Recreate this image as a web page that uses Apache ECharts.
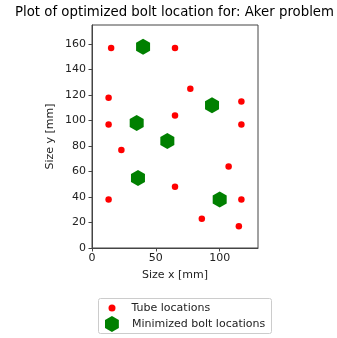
<!DOCTYPE html>
<html>
<head>
<meta charset="utf-8">
<script src="https://cdn.jsdelivr.net/npm/echarts@6/dist/echarts.min.js"></script>
<style>
  html, body { margin: 0; padding: 0; background: #fff; }
  #chart { width: 337px; height: 338px; }
</style>
</head>
<body>
<div id="chart"></div>
<script>
// Tube positions (x, y) in mm
var tubeX = [15, 65, 77, 13, 117, 65, 13, 117, 23, 107, 65, 13, 117, 86, 115];
var tubeY = [157, 157, 125, 118, 115, 104, 97, 97, 77, 64, 48, 38, 38, 23, 17];

// Optimized bolt positions (x, y) in mm
var boltX = [40, 94, 35, 59, 36, 100];
var boltY = [158, 112, 98, 84, 55, 38];

// Axis tick values
var xTicks = [0, 50, 100];
var yTicks = [0, 20, 40, 60, 80, 100, 120, 140, 160];

var FONT = 'DejaVu Sans';
var HEX = 'path://M50,0 L93.3,25 L93.3,75 L50,100 L6.7,75 L6.7,25 Z';

function pairs(xs, ys) {
  return xs.map(function (x, i) { return [x, ys[i]]; });
}

var chart = echarts.init(document.getElementById('chart'), null, { renderer: 'canvas' });

chart.setOption({
  animation: false,
  backgroundColor: '#fff',
  title: {
    text: 'Plot of optimized bolt location for: Aker problem',
    left: 174.5,
    textAlign: 'center',
    top: 6,
    padding: 0,
    textStyle: { fontFamily: FONT, fontSize: 13.3, fontWeight: 'normal', color: '#000' }
  },
  grid: {
    left: 92, top: 25, width: 166, height: 223,
    show: true, borderColor: '#444', borderWidth: 1, backgroundColor: 'transparent'
  },
  xAxis: {
    type: 'value', min: 0, max: 130, interval: 50,
    name: 'Size x [mm]', nameLocation: 'middle', nameGap: 22,
    nameTextStyle: { fontFamily: FONT, fontSize: 11, color: '#222' },
    axisLine: { show: true, onZero: false, lineStyle: { color: '#444', width: 1 } },
    axisTick: { show: true, length: 3.5, customValues: xTicks, lineStyle: { color: '#444' } },
    axisLabel: { customValues: xTicks, fontFamily: FONT, fontSize: 11, color: '#222', margin: 5 },
    splitLine: { show: false }
  },
  yAxis: {
    type: 'value', min: 0, max: 175, interval: 20,
    name: 'Size y [mm]', nameLocation: 'middle', nameGap: 36, nameRotate: 90,
    nameTextStyle: { fontFamily: FONT, fontSize: 11, color: '#222' },
    axisLine: { show: true, onZero: false, lineStyle: { color: '#444', width: 1 } },
    axisTick: { show: true, length: 3.5, customValues: yTicks, lineStyle: { color: '#444' } },
    axisLabel: { customValues: yTicks, fontFamily: FONT, fontSize: 11, color: '#222', margin: 6 },
    splitLine: { show: false }
  },
  graphic: [{
    type: 'rect', z: -1,
    shape: { x: 98.5, y: 298.5, width: 173, height: 35, r: 2 },
    style: { fill: '#fff', stroke: '#ccc', lineWidth: 1 }
  }],
  legend: [{
    data: ['Tube locations'],
    orient: 'vertical', left: 108.5, top: 302.5, padding: 0,
    icon: 'circle', itemWidth: 7, itemHeight: 7,
    textStyle: { fontFamily: FONT, fontSize: 11, color: '#222', padding: [0, 0, 0, 11] }
  }, {
    data: ['Minimized bolt locations'],
    orient: 'vertical', left: 105, top: 316, padding: 0,
    icon: HEX, itemWidth: 14, itemHeight: 16,
    textStyle: { fontFamily: FONT, fontSize: 11, color: '#222', padding: [0, 0, 0, 8] }
  }],
  series: [{
    name: 'Tube locations',
    type: 'scatter',
    symbol: 'circle',
    symbolSize: 6.5,
    itemStyle: { color: '#ff0000', opacity: 1 },
    data: pairs(tubeX, tubeY)
  }, {
    name: 'Minimized bolt locations',
    type: 'scatter',
    symbol: HEX,
    symbolSize: [14, 16],
    itemStyle: { color: '#008000', opacity: 1 },
    data: pairs(boltX, boltY)
  }]
});
</script>
</body>
</html>
